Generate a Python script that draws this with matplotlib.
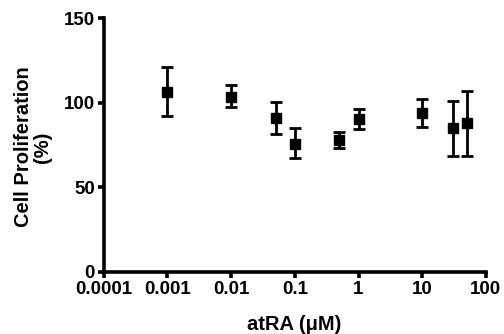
import numpy as np
import matplotlib
matplotlib.use("Agg")
import matplotlib.pyplot as plt

plt.rcParams['font.family'] = ['Liberation Sans', 'DejaVu Sans']
plt.rcParams['font.weight'] = 'bold'

conc = [0.001, 0.01, 0.05, 0.1, 0.5, 1, 10, 30, 50]
prolif = [106.5, 103.5, 91, 75.8, 78.1, 90.6, 93.6, 84.8, 87.8]
err_hi = [121, 110.2, 100.6, 85, 82.7, 96.5, 102.4, 101.2, 107]
err_lo = [92, 97.5, 81.7, 67, 73.4, 84.7, 85.4, 68.7, 68.5]
xticks = [0.0001, 0.001, 0.01, 0.1, 1, 10, 100]
xticklabels = ['0.0001', '0.001', '0.01', '0.1', '1', '10', '100']
yticks = [0, 50, 100, 150]

prolif = np.array(prolif)
yerr = [prolif - np.array(err_lo), np.array(err_hi) - prolif]

fig = plt.figure(figsize=(5.04, 3.34), dpi=100)
ax = fig.add_axes([0.206, 0.186, 0.758, 0.76])
ax.errorbar(conc, prolif, yerr=yerr, fmt='s', color='black', ms=7,
            elinewidth=2, capsize=4.4, capthick=2)

ax.set_xscale('log')
ax.set_xlim(0.0001, 100)
ax.set_ylim(0, 150)
ax.set_xticks(xticks)
ax.set_xticklabels(xticklabels)
ax.xaxis.set_minor_locator(matplotlib.ticker.NullLocator())
ax.set_yticks(yticks)

for s in ['top', 'right']:
    ax.spines[s].set_visible(False)
for s in ['left', 'bottom']:
    ax.spines[s].set_linewidth(2.6)
ax.tick_params(width=2.6, length=4.5, labelsize=13.5, pad=2)
for lab in ax.get_xticklabels() + ax.get_yticklabels():
    lab.set_fontweight('bold')

fig.text(294 / 504, 1 - 325 / 334, 'atRA (\u03bcM)', fontsize=14.5,
         fontweight='bold', ha='center', va='center')
fig.text(33 / 504, 1 - 147 / 334, 'Cell Proliferation\n(%)', fontsize=14.5,
         fontweight='bold', ha='center', va='center', rotation=90,
         linespacing=1.0)

fig.savefig('out.png', dpi=100)
